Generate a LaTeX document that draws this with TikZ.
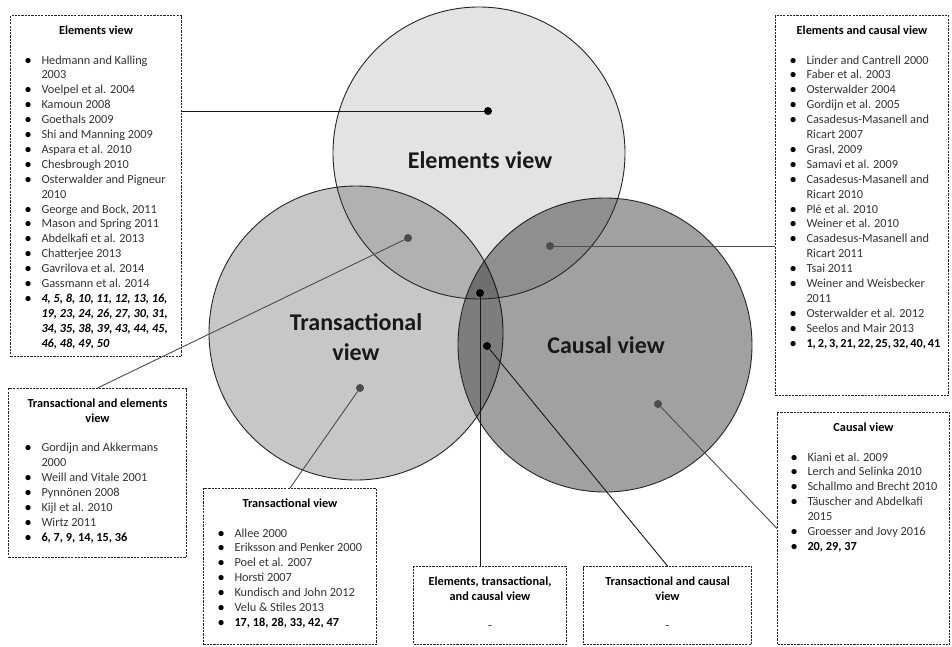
\documentclass[tikz,border=0pt]{standalone}
\usepackage{fontspec}
\setmainfont{Carlito}
\usepackage{xcolor}
\usetikzlibrary{positioning}

\newcommand{\bitem}[1]{\par\noindent\hangindent=18pt\hangafter=1\makebox[18pt][l]{\hspace{1.5pt}\textcolor{black}{\bfseries\textbullet}}#1}
\newcommand{\btitle}[1]{\vspace*{4pt}{\centering\bfseries\color{black}#1\par}\vspace{15pt}}
\newcommand{\blist}[3]{\begin{minipage}[t][#2][t]{#1}\raggedright\hyphenpenalty=10000\exhyphenpenalty=10000\fontsize{12.3}{14.9}\selectfont\color{black!80}#3\end{minipage}}

\begin{document}
\begin{tikzpicture}[x=1pt,y=-1pt]
    \tikzset{Box/.style={draw=black!85, line width=1pt, dash pattern=on 2.2pt off 1.1pt, inner ysep=6pt, anchor=north west}};
    \tikzset{View/.style={circle, draw=black!85, line width=0.9pt, fill=black, inner sep=0pt}};
    \tikzset{ViewLabel/.style={font=\fontsize{24}{30}\selectfont\bfseries, align=center, text=black!90}};
    \tikzset{Dot/.style={circle, fill=#1, inner sep=0pt, minimum size=8pt}, Dot/.default=black};
    \tikzset{Link/.style={line width=0.9pt, draw=#1}, Link/.default=black!90};
    \path[fill=white, use as bounding box] (0,0) rectangle (952,646);

    \node[View, minimum size=294pt, fill opacity=0.22] (trans) at (356,333) {};
    \node[View, minimum size=294pt, fill opacity=0.37] (causal) at (605,345) {};
    \node[View, minimum size=292pt, fill opacity=0.11] (elements) at (479,153) {};
    \node[ViewLabel] (elemlabel) at (480,160) {Elements view};
    \node[ViewLabel] (translabel) at (356,337) {Transactional\\view};
    \node[ViewLabel] (causallabel) at (606,345) {Causal view};

    \node[Box, inner xsep=13pt] (elembox) at (10,15) {\blist{145pt}{329pt}{\btitle{Elements view}
      \bitem{Hedmann and Kalling\break2003}
      \bitem{Voelpel et al. 2004}
      \bitem{Kamoun 2008}
      \bitem{Goethals 2009}
      \bitem{Shi and Manning 2009}
      \bitem{Aspara et al. 2010}
      \bitem{Chesbrough 2010}
      \bitem{Osterwalder~and~Pigneur\break2010}
      \bitem{George and Bock, 2011}
      \bitem{Mason and Spring 2011}
      \bitem{Abdelkafi et al. 2013}
      \bitem{Chatterjee 2013}
      \bitem{Gavrilova et al. 2014}
      \bitem{Gassmann et al. 2014}
      \bitem{\bfseries\itshape\color{black}4,~5,~8,~10,~11,~12,~13,~16,\break19,~23,~24,~26,~27,~30,~31,\break34,~35,~38,~39,~43,~44,~45,\break46,~48,~49,~50}}};
    \node[Box, inner xsep=15pt, below=31pt of elembox.south west, anchor=north west, xshift=-2pt] (transelembox) {\blist{148pt}{157pt}{\btitle{Transactional and elements\\view}
      \bitem{Gordijn and Akkermans\break2000}
      \bitem{Weill and Vitale 2001}
      \bitem{Pynnönen 2008}
      \bitem{Kijl et al. 2010}
      \bitem{Wirtz 2011}
      \bitem{\textbf{\color{black}6, 7, 9, 14, 15, 36}}}};
    \node[Box, inner xsep=13pt] (transbox) at (203,488) {\blist{147pt}{144pt}{\btitle{Transactional view}
      \bitem{Allee 2000}
      \bitem{Eriksson~and~Penker~2000}
      \bitem{Poel et al. 2007}
      \bitem{Horsti 2007}
      \bitem{Kundisch and John 2012}
      \bitem{Velu \& Stiles 2013}
      \bitem{\textbf{\color{black}17, 18, 28, 33, 42, 47}}}};
    \node[Box, inner xsep=6pt] (etcbox) at (413,566) {\blist{141pt}{66pt}{\btitle{Elements, transactional,\\and causal view}
      {\centering -\par}}};
    \node[Box, inner xsep=6pt, right=16pt of etcbox] (tcbox) {\blist{156pt}{66pt}{\btitle{Transactional and causal\\view}
      {\centering -\par}}};
    \node[Box, inner xsep=13pt] (ecbox) at (775,15) {\blist{147pt}{368pt}{\btitle{Elements and causal view}
      \bitem{Linder and Cantrell 2000}
      \bitem{Faber et al. 2003}
      \bitem{Osterwalder 2004}
      \bitem{Gordijn et al. 2005}
      \bitem{Casadesus-Masanell and\break Ricart 2007}
      \bitem{Grasl, 2009}
      \bitem{Samavi et al. 2009}
      \bitem{Casadesus-Masanell and\break Ricart 2010}
      \bitem{Plé et al. 2010}
      \bitem{Weiner et al. 2010}
      \bitem{Casadesus-Masanell and\break Ricart 2011}
      \bitem{Tsai 2011}
      \bitem{Weiner and Weisbecker\break2011}
      \bitem{Osterwalder et al. 2012}
      \bitem{Seelos and Mair 2013}
      \bitem{\textbf{\color{black}1,~2,~3,~21,~22,~25,~32,~40,~41}}}};
    \node[Box, inner xsep=12pt] (causalbox) at (777,412) {\blist{148pt}{220pt}{\btitle{Causal view}
      \bitem{Kiani et al. 2009}
      \bitem{Lerch and Selinka 2010}
      \bitem{Schallmo~and~Brecht~2010}
      \bitem{Täuscher and Abdelkafi\break2015}
      \bitem{Groesser and Jovy 2016}
      \bitem{\textbf{\color{black}20, 29, 37}}}};

    \node[Dot] (de) at (488,111) {};
    \node[Dot=black!70] (det) at (408,238) {};
    \node[Dot=black!70] (dec) at (550,246) {};
    \node[Dot] (dtri) at (480,293) {};
    \node[Dot] (dtc) at (487,346) {};
    \node[Dot=black!70] (dt) at (360,388) {};
    \node[Dot=black!70] (dc) at (658,404) {};

    \draw[Link] (de) -- (de -| elembox.east);
    \draw[Link=black!70] (det) -- (transelembox.north);
    \draw[Link=black!70] (dec) -- (dec -| ecbox.west);
    \draw[Link] (dtri) -- (dtri |- etcbox.north);
    \draw[Link] (dtc) -- (tcbox.north);
    \draw[Link=black!70] (dt) -- (transbox.north);
    \draw[Link=black!70] (dc) -- (causalbox.west);
  \end{tikzpicture}
\end{document}
